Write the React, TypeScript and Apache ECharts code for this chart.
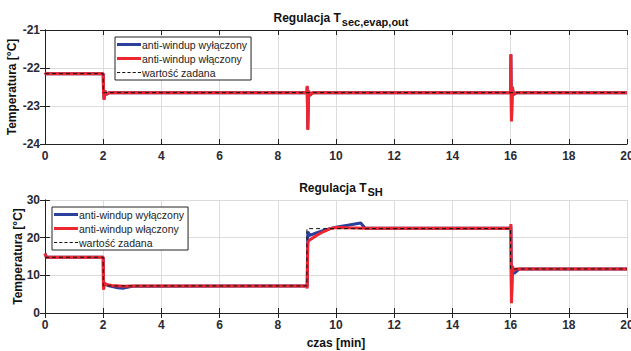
import React, { useEffect, useRef } from "react";
import * as echarts from "echarts";

const xTicks = [0, 2, 4, 6, 8, 10, 12, 14, 16, 18, 20];
const seriesNames = ["anti-windup wyłączony", "anti-windup włączony", "wartość zadana"];

// Top plot: T_sec,evap,out
const topSetpoint: [number, number][] = [[0, -22.15], [2, -22.15], [2, -22.65], [20, -22.65]];
const topOff: [number, number][] = [
  [0, -22.12], [0.03, -22.15], [2, -22.15], [2.01, -22.6], [2.03, -22.82], [2.06, -22.6], [2.1, -22.7], [2.2, -22.65],
  [9, -22.65], [9.01, -22.5], [9.03, -23.6], [9.06, -22.6], [9.1, -22.72], [9.2, -22.65],
  [16, -22.65], [16.01, -21.66], [16.03, -23.38], [16.06, -22.5], [16.1, -22.7], [16.2, -22.65], [20, -22.65],
];
const topOn: [number, number][] = [
  [0, -22.12], [0.03, -22.15], [2, -22.15], [2.01, -22.6], [2.03, -22.84], [2.06, -22.6], [2.1, -22.7], [2.2, -22.65],
  [9, -22.65], [9.01, -22.47], [9.03, -23.63], [9.06, -22.6], [9.1, -22.72], [9.2, -22.65],
  [16, -22.65], [16.01, -21.63], [16.03, -23.41], [16.06, -22.5], [16.1, -22.7], [16.2, -22.65], [20, -22.65],
];

// Bottom plot: T_SH
const botSetpoint: [number, number][] = [[0, 14.8], [2, 14.8], [2, 7.2], [9, 7.2], [9, 22.4], [16, 22.4], [16, 11.7], [20, 11.7]];
const botOff: [number, number][] = [
  [0, 15.8], [0.05, 14.8], [2, 14.8], [2.01, 6.3], [2.04, 7.8], [2.2, 7.2], [2.5, 6.7], [2.7, 6.6], [3, 7.1], [9, 7.2],
  [9.01, 7.0], [9.03, 21.6], [9.1, 20.6], [9.3, 21.2], [9.6, 22.0], [10, 22.8], [10.4, 23.3], [10.85, 23.9], [11.0, 22.5],
  [16, 22.5], [16.01, 23.0], [16.03, 4.0], [16.06, 11.0], [16.12, 10.5], [16.3, 11.7], [20, 11.7],
];
const botOn: [number, number][] = [
  [0, 15.8], [0.05, 14.8], [2, 14.8], [2.01, 6.2], [2.04, 8.0], [2.1, 7.6], [2.3, 7.3], [2.7, 7.1], [3, 7.2], [9, 7.2],
  [9.01, 6.5], [9.03, 18.5], [9.06, 19.2], [9.2, 19.9], [9.4, 20.9], [9.6, 21.7], [9.8, 22.4], [10, 22.7], [10.4, 22.6],
  [11, 22.5], [16, 22.5], [16.01, 23.6], [16.03, 2.6], [16.06, 12.5], [16.1, 11.3], [16.2, 11.7], [20, 11.7],
];

const FONT = "Liberation Sans";
const BLUE = "#2b3f9c";
const RED = "#ee2630";
const SOLID_ICON = "path://M0,0H24V3H0Z";
const DASH_ICON = "path://M0,0h3v1h-3z M5,0h3v1h-3z M10,0h3v1h-3z M15,0h3v1h-3z M20,0h3v1h-3z";

export default function App() {
  const ref = useRef<HTMLDivElement>(null);
  useEffect(() => {
    if (!ref.current) return;
    const chart = echarts.init(ref.current, undefined, { renderer: "svg" });
    const grids = [
      { left: 45, right: 4, top: 30, height: 114, outerBoundsMode: "none", containLabel: false },
      { left: 45, right: 4, top: 200, height: 113, outerBoundsMode: "none", containLabel: false },
    ];
    const tickStyle = { inside: true, length: 5, lineStyle: { color: "#222" } };
    const axisLine = { show: true, lineStyle: { color: "#222", width: 1 } };
    const labelStyle = { fontFamily: FONT, fontSize: 12, color: "#2a2a35", fontWeight: "bold" as const };
    const xAxis: any[] = [];
    const yAxis: any[] = [];
    [0, 1].forEach((g) => {
      xAxis.push({
        type: "value", gridIndex: g, min: 0, max: 20, interval: 2, position: "bottom",
        axisLine, axisTick: tickStyle, axisLabel: { ...labelStyle, margin: 6 },
        splitLine: { show: true, lineStyle: { color: "#dcdcdc", width: 1 } },
        name: g === 1 ? "czas [min]" : "", nameLocation: "middle", nameGap: 24, nameMoveOverlap: false,
        nameTextStyle: { fontFamily: FONT, fontSize: 12, fontWeight: "bold", color: "#111" },
      });
      xAxis.push({
        type: "value", gridIndex: g, min: 0, max: 20, interval: 2, position: "top",
        axisLine, axisTick: tickStyle, axisLabel: { show: false }, splitLine: { show: false },
      });
      const ymin = g === 0 ? -24 : 0;
      const ymax = g === 0 ? -21 : 30;
      const yint = g === 0 ? 1 : 10;
      yAxis.push({
        type: "value", gridIndex: g, min: ymin, max: ymax, interval: yint, position: "left",
        axisLine, axisTick: tickStyle, axisLabel: { ...labelStyle, margin: 5 },
        splitLine: { show: true, lineStyle: { color: "#dcdcdc", width: 1 } },
        name: "Temperatura [°C]", nameLocation: "middle", nameGap: g === 0 ? 27 : 21, nameMoveOverlap: false,
        nameTextStyle: { fontFamily: FONT, fontSize: 12, fontWeight: "bold", color: "#111" },
      });
      yAxis.push({
        type: "value", gridIndex: g, min: ymin, max: ymax, interval: yint, position: "right",
        axisLine, axisTick: tickStyle, axisLabel: { show: false }, splitLine: { show: false },
      });
    });
    const mk = (name: string, data: [number, number][], g: number, color: string, width: number, dashed: boolean, z: number) => ({
      name, type: "line", data, xAxisIndex: g * 2, yAxisIndex: g * 2, showSymbol: false, symbol: "none",
      lineStyle: { color, width, type: dashed ? [4, 3] : "solid" }, itemStyle: { color }, z,
    });
    const legendCommon = {
      orient: "vertical", itemWidth: 24, itemHeight: 10, itemGap: 3,
      borderColor: "#222", borderWidth: 1, padding: [2, 4, 2, 2], backgroundColor: "#fff",
      textStyle: { fontFamily: FONT, fontSize: 10.5, color: "#222", padding: [0, 0, 0, -4] },
      data: [
        { name: seriesNames[0], icon: SOLID_ICON },
        { name: seriesNames[1], icon: SOLID_ICON },
        { name: seriesNames[2], icon: DASH_ICON },
      ],
      selectedMode: false,
    };
    const titleRich = (subSize: number) => ({
      m: { fontFamily: FONT, fontSize: 12, fontWeight: "bold", color: "#111", lineHeight: 18 },
      s: { fontFamily: FONT, fontSize: subSize, fontWeight: "bold", color: "#111", verticalAlign: "bottom", lineHeight: 18, padding: [9, 0, 0, 1] },
    });
    chart.setOption({
      animation: false,
      title: [
        { text: "{m|Regulacja T}{s|sec,evap,out}", left: 336, top: 4, textAlign: "center", textStyle: { rich: titleRich(11) } },
        { text: "{m|Regulacja T}{s|SH}", left: 336, top: 174, textAlign: "center", textStyle: { rich: titleRich(11) } },
      ],
      grid: grids,
      xAxis,
      yAxis,
      legend: [
        { ...legendCommon, left: 115, top: 37 },
        { ...legendCommon, left: 52, top: 207 },
      ],
      series: [
        mk(seriesNames[0], topOff, 0, BLUE, 3, false, 2),
        mk(seriesNames[1], topOn, 0, RED, 3, false, 3),
        mk(seriesNames[2], topSetpoint, 0, "#111", 1, true, 4),
        mk(seriesNames[0], botOff, 1, BLUE, 3, false, 2),
        mk(seriesNames[1], botOn, 1, RED, 3, false, 3),
        mk(seriesNames[2], botSetpoint, 1, "#111", 1, true, 4),
      ],
    });
    return () => chart.dispose();
  }, []);
  return <div ref={ref} style={{ width: 631, height: 351, position: "absolute", left: 0, top: 0, background: "#fff" }} />;
}
